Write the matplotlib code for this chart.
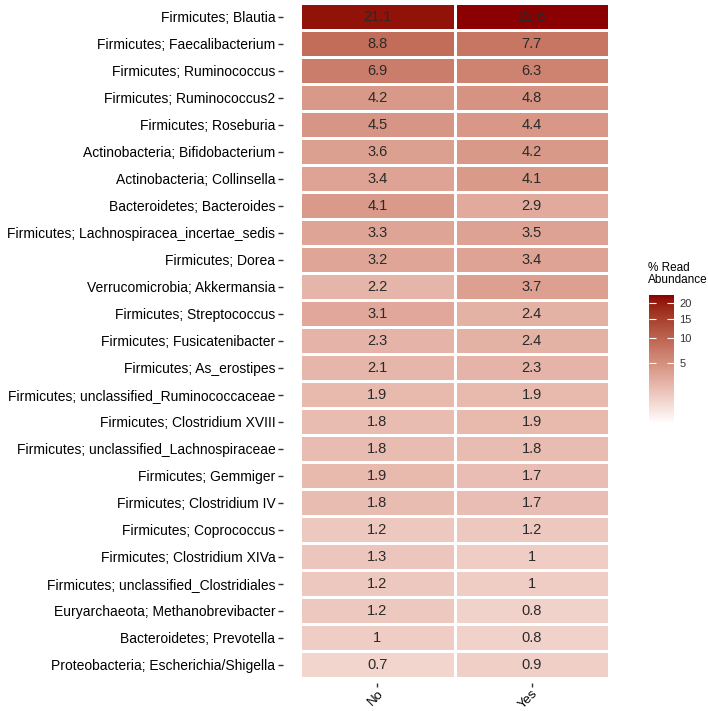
import numpy as np
import matplotlib
matplotlib.use('Agg')
import matplotlib.pyplot as plt
from matplotlib.colors import ListedColormap, FuncNorm

plt.rcParams['font.family'] = ['Liberation Sans', 'DejaVu Sans']

# ============================[Data]=============================

taxa = [
    'Firmicutes; Blautia',
    'Firmicutes; Faecalibacterium',
    'Firmicutes; Ruminococcus',
    'Firmicutes; Ruminococcus2',
    'Firmicutes; Roseburia',
    'Actinobacteria; Bifidobacterium',
    'Actinobacteria; Collinsella',
    'Bacteroidetes; Bacteroides',
    'Firmicutes; Lachnospiracea_incertae_sedis',
    'Firmicutes; Dorea',
    'Verrucomicrobia; Akkermansia',
    'Firmicutes; Streptococcus',
    'Firmicutes; Fusicatenibacter',
    'Firmicutes; As_erostipes',
    'Firmicutes; unclassified_Ruminococcaceae',
    'Firmicutes; Clostridium XVIII',
    'Firmicutes; unclassified_Lachnospiraceae',
    'Firmicutes; Gemmiger',
    'Firmicutes; Clostridium IV',
    'Firmicutes; Coprococcus',
    'Firmicutes; Clostridium XIVa',
    'Firmicutes; unclassified_Clostridiales',
    'Euryarchaeota; Methanobrevibacter',
    'Bacteroidetes; Prevotella',
    'Proteobacteria; Escherichia/Shigella',
]
groups = ['No', 'Yes']
abund_no = [21.1, 8.8, 6.9, 4.2, 4.5, 3.6, 3.4, 4.1, 3.3, 3.2, 2.2, 3.1, 2.3,
            2.1, 1.9, 1.8, 1.8, 1.9, 1.8, 1.2, 1.3, 1.2, 1.2, 1.0, 0.7]
abund_yes = [22.6, 7.7, 6.3, 4.8, 4.4, 4.2, 4.1, 2.9, 3.5, 3.4, 3.7, 2.4, 2.4,
             2.3, 1.9, 1.9, 1.8, 1.7, 1.7, 1.2, 1.0, 1.0, 0.8, 0.8, 0.9]
cbar_ticks = [5, 10, 15, 20]

# ======================[White -> darkred in Lab]=======================


def to_lab(rgb):
    c = np.asarray(rgb, float)
    c = np.where(c > 0.04045, ((c + 0.055) / 1.055) ** 2.4, c / 12.92)
    M = np.array([[0.4124, 0.3576, 0.1805],
                  [0.2126, 0.7152, 0.0722],
                  [0.0193, 0.1192, 0.9505]])
    xyz = M @ c / np.array([0.95047, 1.0, 1.08883])
    f = np.where(xyz > 0.008856, np.cbrt(xyz), 7.787 * xyz + 16 / 116)
    return np.array([116 * f[1] - 16, 500 * (f[0] - f[1]), 200 * (f[1] - f[2])])


def from_lab(lab):
    fy = (lab[0] + 16) / 116
    fx = fy + lab[1] / 500
    fz = fy - lab[2] / 200
    f = np.array([fx, fy, fz])
    xyz = np.where(f ** 3 > 0.008856, f ** 3, (f - 16 / 116) / 7.787)
    xyz = xyz * np.array([0.95047, 1.0, 1.08883])
    Minv = np.array([[3.2406, -1.5372, -0.4986],
                     [-0.9689, 1.8758, 0.0415],
                     [0.0557, -0.2040, 1.0570]])
    c = Minv @ xyz
    c = np.where(c > 0.0031308, 1.055 * np.clip(c, 0, None) ** (1 / 2.4) - 0.055, 12.92 * c)
    return np.clip(c, 0, 1)


lo = to_lab([1, 1, 1])
hi = to_lab([139 / 255, 0, 0])
cmap = ListedColormap([from_lab(lo + (hi - lo) * t) for t in np.linspace(0, 1, 256)])
norm = FuncNorm((np.sqrt, np.square), vmin=0, vmax=22.6)

# ==============================[Plot]================================

W, H = 708, 711
fig = plt.figure(figsize=(W / 100, H / 100), dpi=100)
ax = fig.add_axes([283 / W, 1 - 683 / H, (609 - 283) / W, (683 - 3) / H])

data = np.array([abund_no, abund_yes]).T
n = len(taxa)
mesh = ax.pcolormesh(np.arange(3) - 0.5, np.arange(n + 1) - 0.5, data,
                     cmap=cmap, norm=norm, edgecolor='white', linewidth=1.0)

for i in range(n):
    for j in range(2):
        ax.text(j, i, '{:g}'.format(data[i, j]), ha='center', va='center',
                fontsize=10.5, color='#2a2a2a')

# small gap between axis ticks and tiles, like the reference
ax.set_xlim(-0.5 - 17 / 154.5, 1.5)
ax.set_ylim(n - 0.5 + 5 / 27.2, -0.5)
for s in ax.spines.values():
    s.set_visible(False)

ax.set_yticks(range(n))
ax.set_yticklabels(taxa, fontsize=10, color='black')
ax.set_xticks(range(2))
ax.set_xticklabels(groups, fontsize=9.5, color='black', rotation=45,
                   ha='right', va='top', rotation_mode='anchor')
ax.tick_params(axis='both', length=3.5, width=1, color='#333333', pad=2)
ax.tick_params(axis='x', length=3, pad=0.5)

# colorbar
cax = fig.add_axes([649 / W, 1 - 424 / H, 25 / W, (424 - 295) / H])
cb = fig.colorbar(mesh, cax=cax, ticks=cbar_ticks)
cb.outline.set_visible(False)
cax.tick_params(direction='in', length=5, width=0.8, color='white',
                left=True, right=True, labelsize=8, labelcolor='#333333', pad=4)
fig.text(648 / W, 1 - 262 / H, '% Read\nAbundance', fontsize=8.5,
         ha='left', va='top', linespacing=1.0)

fig.savefig('out.png', dpi=100)
